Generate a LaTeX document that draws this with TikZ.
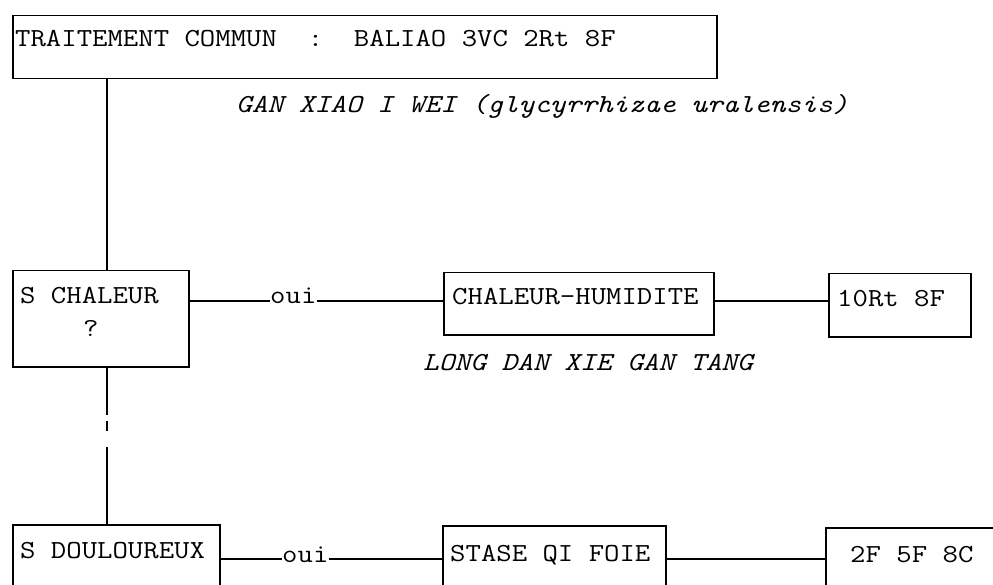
\documentclass[tikz,border=0pt]{standalone}
\usepackage{fontspec}
\tikzset{
  bx/.style={draw, line width=1.5pt, inner sep=0pt, anchor=north west},
  tx/.style={anchor=base west, inner sep=0pt, font=\fontsize{26}{30}\selectfont\ttfamily\addfontfeature{FakeBold=1.2}},
  itx/.style={anchor=base west, inner sep=0pt, font=\fontsize{26}{30}\selectfont\ttfamily\itshape\addfontfeature{FakeBold=1.0}},
  ln/.style={line width=1.3pt},
  vln/.style={line width=1.8pt},
}
\newcommand\tws[1]{\scalebox{1.15}[1]{#1}}
\begin{document}
\begin{tikzpicture}[x=1pt,y=-1pt]
\useasboundingbox (0,0) rectangle (993,585);
\fill[white] (0,0) rectangle (993,585);
\clip (0,0) rectangle (993,585);
% boxes
\node[bx, minimum width=704, minimum height=63] (top) at (12,15) {};
\node[bx, minimum width=176, minimum height=96] (chal) at (12,270) {};
\node[bx, minimum width=270, minimum height=62] (chum) at (443,272) {};
\node[bx, minimum width=142, minimum height=63] (r10) at (828,273) {};
\node[bx, minimum width=207, minimum height=80] (doul) at (12,524) {};
\node[bx, minimum width=223, minimum height=80] (stase) at (442,525) {};
\node[bx, minimum width=200, minimum height=80] (r2f) at (825,527) {};
% texts
\node[tx] (ttop) at (15,47) {\tws{TRAITEMENT COMMUN~~:~~BALIAO 3VC 2Rt 8F}};
\node[itx] (tgan) at (236,113) {\tws{GAN XIAO I WEI (glycyrrhizae uralensis)}};
\node[tx] (tchal) at (20,304) {\tws{S CHALEUR}};
\node[tx] (tq) at (83,336) {\tws{?}};
\node[tx] (tchum) at (452,305) {\tws{CHALEUR-HUMIDITE}};
\node[itx] (tlong) at (423,370) {\tws{LONG DAN XIE GAN TANG}};
\node[tx] (tr10) at (837,306) {\tws{10Rt 8F}};
\node[tx] (tdoul) at (20,558) {\tws{S DOULOUREUX}};
\node[tx] (tstase) at (450,561) {\tws{STASE QI FOIE}};
\node[tx] (tr2f) at (850,562) {\tws{2F 5F 8C}};
\node[tx] (oui1) at (270,304) {\tws{oui}};
\node[tx] (oui2) at (282,562) {\tws{oui}};
% connectors
\coordinate (vx) at (107,0);
\coordinate (l1) at (0,301);
\coordinate (l2) at (0,559);
\draw[vln] (top.south -| vx) -- (chal.north -| vx);
\draw[vln, dash pattern=on 47pt off 6pt on 10pt off 16pt on 90pt] (chal.south -| vx) -- (doul.north -| vx);
\draw[ln] (chal.east |- l1) -- (oui1.west |- l1);
\draw[ln] (oui1.east |- l1) -- (chum.west |- l1);
\draw[ln] (chum.east |- l1) -- (r10.west |- l1);
\draw[ln] (doul.east |- l2) -- (oui2.west |- l2);
\draw[ln] (oui2.east |- l2) -- (stase.west |- l2);
\draw[ln] (stase.east |- l2) -- (r2f.west |- l2);
\end{tikzpicture}
\end{document}
